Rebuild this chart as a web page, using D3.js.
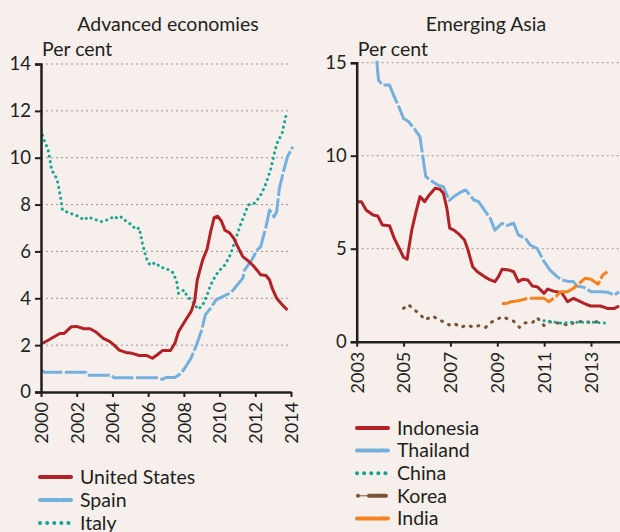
<!DOCTYPE html>
<html>
<head>
<meta charset="utf-8">
<script src="https://cdn.jsdelivr.net/npm/d3@7"></script>
<style>
  body { margin: 0; background: #f6efeb; }
  svg { display: block; font-family: "Lato", "Open Sans", sans-serif; }
</style>
</head>
<body>
<div id="chart"></div>
<script>
"use strict";

var width = 620,
  height = 532;

// advanced economies, per cent
var unitedStates = [[2000.0,2.08],[2000.15,2.1],[2001.06,2.5],[2001.3,2.5],[2001.7,2.79],[2002.0,2.8],[2002.4,2.7],[2002.75,2.7],[2003.1,2.55],[2003.49,2.29],[2003.86,2.15],[2004.1,2.0],[2004.38,1.79],[2004.75,1.69],[2005.1,1.65],[2005.5,1.56],[2005.9,1.56],[2006.24,1.44],[2006.5,1.58],[2006.8,1.77],[2007.25,1.77],[2007.5,2.08],[2007.7,2.57],[2008.1,3.07],[2008.4,3.43],[2008.6,3.86],[2008.75,4.78],[2009.05,5.63],[2009.3,6.1],[2009.5,6.84],[2009.7,7.45],[2009.9,7.5],[2010.1,7.3],[2010.3,6.91],[2010.55,6.8],[2010.8,6.56],[2011.0,6.23],[2011.3,5.78],[2011.55,5.63],[2011.85,5.42],[2012.1,5.2],[2012.3,5.0],[2012.6,4.97],[2012.8,4.78],[2012.95,4.42],[2013.2,4.0],[2013.5,3.73],[2013.8,3.5]];
var spain = [[2000.0,0.94],[2000.2,0.84],[2002.5,0.84],[2002.6,0.72],[2003.9,0.72],[2004.1,0.61],[2006.5,0.61],[2006.8,0.54],[2007.0,0.62],[2007.5,0.62],[2007.85,0.8],[2008.1,1.08],[2008.4,1.44],[2008.7,2.0],[2009.0,2.65],[2009.2,3.29],[2009.5,3.58],[2009.8,3.93],[2010.2,4.08],[2010.65,4.25],[2011.0,4.58],[2011.3,4.85],[2011.4,5.2],[2011.8,5.63],[2012.1,6.06],[2012.3,6.2],[2012.6,7.06],[2012.8,7.77],[2013.05,7.47],[2013.2,7.7],[2013.35,8.7],[2013.6,9.47],[2013.8,10.04],[2014.1,10.47]];
var italy = [[2000.0,11.18],[2000.15,10.8],[2000.4,10.33],[2000.6,9.47],[2000.9,9.08],[2001.1,8.3],[2001.2,7.77],[2001.4,7.7],[2001.8,7.58],[2002.1,7.5],[2002.4,7.34],[2002.65,7.47],[2003.0,7.37],[2003.4,7.27],[2003.8,7.37],[2004.1,7.5],[2004.3,7.4],[2004.5,7.47],[2004.8,7.27],[2005.1,7.13],[2005.3,6.94],[2005.5,7.0],[2005.7,6.27],[2005.9,5.71],[2006.1,5.42],[2006.4,5.52],[2006.7,5.32],[2007.0,5.28],[2007.4,5.09],[2007.6,4.71],[2007.7,4.21],[2008.0,4.35],[2008.2,4.07],[2008.5,3.85],[2008.8,3.53],[2009.05,3.7],[2009.3,4.13],[2009.5,4.57],[2009.8,5.0],[2010.1,5.28],[2010.3,5.42],[2010.6,5.85],[2010.85,6.41],[2011.1,6.98],[2011.3,7.4],[2011.6,7.98],[2012.0,8.07],[2012.36,8.48],[2012.6,8.9],[2012.85,9.47],[2013.0,9.97],[2013.2,10.6],[2013.5,11.04],[2013.75,11.9]];

// emerging Asia, per cent
var indonesia = [[2003.0,7.53],[2003.2,7.53],[2003.4,7.08],[2003.7,6.81],[2003.9,6.76],[2004.1,6.27],[2004.4,6.24],[2004.6,5.56],[2004.85,4.93],[2005.0,4.54],[2005.15,4.43],[2005.35,6.0],[2005.55,7.08],[2005.7,7.8],[2005.9,7.53],[2006.1,7.89],[2006.35,8.25],[2006.55,8.2],[2006.7,7.98],[2006.85,7.17],[2006.97,6.1],[2007.15,6.0],[2007.35,5.8],[2007.6,5.47],[2007.75,4.93],[2007.95,4.03],[2008.15,3.76],[2008.45,3.5],[2008.7,3.32],[2008.9,3.23],[2009.05,3.5],[2009.2,3.89],[2009.5,3.85],[2009.7,3.76],[2009.9,3.23],[2010.1,3.36],[2010.3,3.32],[2010.5,2.99],[2010.7,2.96],[2011.0,2.6],[2011.15,2.83],[2011.4,2.72],[2011.75,2.63],[2012.0,2.15],[2012.25,2.33],[2012.55,2.15],[2012.8,2.0],[2013.0,1.92],[2013.4,1.92],[2013.7,1.79],[2014.0,1.79],[2014.2,1.92]];
var thailand = [[2003.85,15.2],[2003.93,14.07],[2004.1,13.8],[2004.4,13.8],[2004.6,13.17],[2004.8,12.63],[2005.0,12.0],[2005.2,11.85],[2005.5,11.38],[2005.7,11.02],[2005.8,10.13],[2005.95,8.87],[2006.25,8.6],[2006.5,8.4],[2006.7,8.33],[2006.95,7.6],[2007.15,7.8],[2007.4,8.01],[2007.65,8.16],[2008.0,7.62],[2008.2,7.53],[2008.4,7.17],[2008.7,6.63],[2008.9,6.0],[2009.2,6.37],[2009.4,6.24],[2009.7,6.37],[2009.9,5.74],[2010.2,5.56],[2010.4,5.2],[2010.7,5.02],[2011.0,4.3],[2011.25,3.85],[2011.55,3.5],[2011.75,3.32],[2012.05,3.23],[2012.25,3.23],[2012.4,2.99],[2012.7,2.92],[2013.0,2.69],[2013.4,2.69],[2013.7,2.66],[2014.0,2.51],[2014.2,2.69]];
var china = [[2011.0,1.13],[2011.3,1.08],[2011.75,1.0],[2012.2,1.05],[2012.6,1.05],[2013.0,1.05],[2013.4,1.02],[2013.75,1.0]];
var korea = [[2005.0,1.79],[2005.2,2.0],[2005.5,1.67],[2005.7,1.5],[2005.9,1.17],[2006.25,1.38],[2006.55,1.13],[2006.75,1.08],[2006.95,0.9],[2007.15,0.99],[2007.45,0.77],[2007.7,0.9],[2008.0,0.77],[2008.2,0.86],[2008.5,0.77],[2008.7,1.02],[2009.0,1.2],[2009.2,1.35],[2009.5,1.2],[2009.7,1.1],[2009.95,0.77],[2010.2,1.02],[2010.5,1.02],[2010.7,1.3],[2011.0,0.86],[2011.2,1.08],[2011.5,1.0],[2011.75,1.0],[2012.05,0.86],[2012.25,1.02],[2012.55,1.08],[2012.8,1.08],[2013.0,1.02],[2013.3,1.08]];
var india = [[2009.2,2.06],[2009.4,2.06],[2009.6,2.15],[2009.9,2.2],[2010.3,2.33],[2010.8,2.33],[2011.0,2.33],[2011.2,2.15],[2011.5,2.42],[2011.7,2.69],[2012.0,2.69],[2012.25,2.87],[2012.5,3.14],[2012.75,3.41],[2013.0,3.36],[2013.3,3.09],[2013.5,3.59],[2013.7,3.76]];

var leftYears = [2000, 2002, 2004, 2006, 2008, 2010, 2012, 2014];
var leftTicks = [0, 2, 4, 6, 8, 10, 12, 14];
var rightYears = [2003, 2005, 2007, 2009, 2011, 2013];
var rightTicks = [0, 5, 10, 15];

var red = "#b32025",
  blue = "#74b0de",
  teal = "#17a493",
  brown = "#7b5234",
  orange = "#f5821f",
  ink = "#231f20";

var svg = d3
  .select("#chart")
  .append("svg")
  .attr("width", width)
  .attr("height", height);

// draw one panel: axes, grid and lines
function panel(opts) {
  var x = d3.scaleLinear().domain(opts.xDomain).range(opts.xRange);
  var y = d3.scaleLinear().domain(opts.yDomain).range([opts.y0, opts.yTop]);
  var g = svg.append("g");

  g.append("text")
    .attr("x", opts.titleX)
    .attr("y", 31)
    .attr("text-anchor", "middle")
    .attr("font-size", 19.5)
    .attr("fill", ink)
    .text(opts.title);

  g.append("text")
    .attr("x", opts.xRange[0] + 1)
    .attr("y", 56)
    .attr("font-size", 19.5)
    .attr("fill", ink)
    .text("Per cent");

  // grid
  g.selectAll("line.grid")
    .data(opts.yTicks.filter(function(d) { return d > 0; }))
    .enter()
    .append("line")
    .attr("class", "grid")
    .attr("x1", opts.xRange[0])
    .attr("x2", opts.gridEnd)
    .attr("y1", function(d) { return y(d); })
    .attr("y2", function(d) { return y(d); })
    .attr("stroke", "#9a9695")
    .attr("stroke-width", 1)
    .attr("stroke-dasharray", "2,3");

  var clipId = "clip" + opts.title.replace(/\s/g, "");
  svg.append("clipPath")
    .attr("id", clipId)
    .append("rect")
    .attr("x", opts.xRange[0])
    .attr("y", opts.yTop - 2)
    .attr("width", width)
    .attr("height", opts.y0 - opts.yTop + 2);

  var line = d3.line()
    .x(function(d) { return x(d[0]); })
    .y(function(d) { return y(d[1]); });

  opts.series.forEach(function(s) {
    g.append("path")
      .datum(s.data)
      .attr("clip-path", "url(#" + clipId + ")")
      .attr("fill", "none")
      .attr("stroke", s.color)
      .attr("stroke-width", 3)
      .attr("stroke-linejoin", "round")
      .attr("stroke-linecap", s.cap || "butt")
      .attr("stroke-dasharray", s.dash || null)
      .attr("d", line);
  });

  // y axis
  var ya = g.append("g")
    .attr("transform", "translate(" + opts.xRange[0] + ",0)")
    .call(d3.axisLeft(y).tickValues(opts.yTicks).tickSize(6).tickPadding(4));
  ya.select(".domain").attr("stroke", ink).attr("stroke-width", 2.5);
  ya.selectAll(".tick line").attr("stroke", ink).attr("stroke-width", 2);
  ya.selectAll(".tick text")
    .attr("font-size", 18.5)
    .attr("font-family", "Lato, sans-serif")
    .attr("fill", ink);

  // x axis
  var xa = g.append("g")
    .attr("transform", "translate(0," + opts.y0 + ")")
    .call(d3.axisBottom(x).tickValues(opts.xTicks).tickFormat(d3.format("d")).tickSize(5).tickSizeOuter(0));
  xa.select(".domain").attr("stroke", ink).attr("stroke-width", 2.5);
  xa.selectAll(".tick line").attr("stroke", ink).attr("stroke-width", 2);
  xa.selectAll(".tick text")
    .attr("font-size", 18)
    .attr("font-family", "Lato, sans-serif")
    .attr("fill", ink)
    .attr("transform", "rotate(-90)")
    .attr("text-anchor", "end")
    .attr("x", -10)
    .attr("y", 0)
    .attr("dy", "0.35em");

  return g;
}

panel({
  title: "Advanced economies",
  titleX: 168,
  xDomain: [2000, 2014],
  xRange: [41, 291],
  yDomain: [0, 14],
  y0: 392,
  yTop: 64,
  gridEnd: 290,
  yTicks: leftTicks,
  xTicks: leftYears,
  series: [
    { data: italy, color: teal, dash: "0.1,5.4", cap: "round" },
    { data: spain, color: blue, dash: "22,2.5" },
    { data: unitedStates, color: red }
  ]
});

panel({
  title: "Emerging Asia",
  titleX: 486,
  xDomain: [2003, 2014.5],
  xRange: [356.7, 356.7 + 11.5 * 23.43],
  yDomain: [0, 15],
  y0: 341.7,
  yTop: 62.7,
  gridEnd: 620,
  yTicks: rightTicks,
  xTicks: rightYears,
  series: [
    { data: korea, color: brown, dash: "1,7", cap: "round" },
    { data: thailand, color: blue, dash: "26,2.5" },
    { data: indonesia, color: red },
    { data: india, color: orange, dash: "26,2.5" },
    { data: china, color: teal, dash: "0.1,5.4", cap: "round" }
  ]
});

// legends
var leftLegend = [
  { name: "United States", color: red },
  { name: "Spain", color: blue, dash: "19,2.5" },
  { name: "Italy", color: teal, dash: "0.1,7", cap: "round" }
];
var rightLegend = [
  { name: "Indonesia", color: red },
  { name: "Thailand", color: blue, dash: "19,2.5" },
  { name: "China", color: teal, dash: "0.1,7", cap: "round" },
  { name: "Korea", color: brown, korea: true },
  { name: "India", color: orange, dash: "19,2.5" }
];

function legend(items, x0, y0, step) {
  var g = svg.append("g");
  var row = g.selectAll("g")
    .data(items)
    .enter()
    .append("g")
    .attr("transform", function(d, i) { return "translate(" + x0 + "," + (y0 + i * step) + ")"; });

  row.filter(function(d) { return !d.korea; })
    .append("line")
    .attr("x1", 1)
    .attr("x2", 32)
    .attr("stroke", function(d) { return d.color; })
    .attr("stroke-width", 4)
    .attr("stroke-linecap", function(d) { return d.cap || "round"; })
    .attr("stroke-dasharray", function(d) { return d.dash || null; });

  var k = row.filter(function(d) { return d.korea; });
  k.append("circle").attr("cx", 2).attr("r", 2).attr("fill", brown);
  k.append("line").attr("x1", 2).attr("x2", 12).attr("stroke", brown).attr("stroke-width", 1);
  k.append("line").attr("x1", 13).attr("x2", 30).attr("stroke", brown)
    .attr("stroke-width", 4).attr("stroke-linecap", "round");

  row.append("text")
    .attr("x", 41)
    .attr("dy", "0.35em")
    .attr("font-size", 19.5)
    .attr("fill", ink)
    .text(function(d) { return d.name; });
}

legend(leftLegend, 39, 477, 23);
legend(rightLegend, 356, 428, 22.6);
</script>
</body>
</html>
